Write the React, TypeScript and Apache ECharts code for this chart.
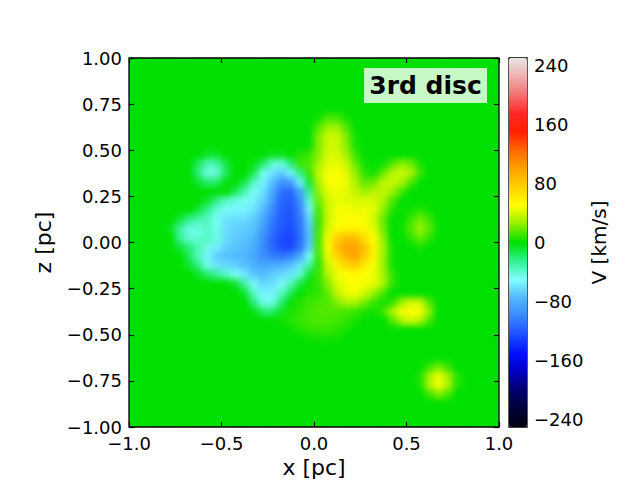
import { useEffect, useRef } from 'react';
import * as echarts from 'echarts';

const FONT = '"DejaVu Sans"';

// cell centres of the map, 0.05 pc steps
const xCenters = ['-0.975','-0.925','-0.875','-0.825','-0.775','-0.725','-0.675','-0.625','-0.575','-0.525','-0.475','-0.425','-0.375','-0.325','-0.275','-0.225','-0.175','-0.125','-0.075','-0.025','0.025','0.075','0.125','0.175','0.225','0.275','0.325','0.375','0.425','0.475','0.525','0.575','0.625','0.675','0.725','0.775','0.825','0.875','0.925','0.975'];
const zCenters = ['0.975','0.925','0.875','0.825','0.775','0.725','0.675','0.625','0.575','0.525','0.475','0.425','0.375','0.325','0.275','0.225','0.175','0.125','0.075','0.025','-0.025','-0.075','-0.125','-0.175','-0.225','-0.275','-0.325','-0.375','-0.425','-0.475','-0.525','-0.575','-0.625','-0.675','-0.725','-0.775','-0.825','-0.875','-0.925','-0.975'];

// V [km/s], top row first
const velocityRows = [
  [0,0,0,0,0,0,0,0,0,0, 0,0,0,0,0,0,0,0,0,0, 0,0,0,0,0,0,0,0,0,0, 0,0,0,0,0,0,0,0,0,0],
  [0,0,0,0,0,0,0,0,0,0, 0,0,0,0,0,0,0,0,0,0, 0,0,0,0,0,0,0,0,0,0, 0,0,0,0,0,0,0,0,0,0],
  [0,0,0,0,0,0,0,0,0,0, 0,0,0,0,0,0,0,0,0,0, 0,0,0,0,0,0,0,0,0,0, 0,0,0,0,0,0,0,0,0,0],
  [0,0,0,0,0,0,0,0,0,0, 0,0,0,0,0,0,0,0,0,0, 0,0,0,0,0,0,0,0,0,0, 0,0,0,0,0,0,0,0,0,0],
  [0,0,0,0,0,0,0,0,0,0, 0,0,0,0,0,0,0,0,0,0, 0,0,0,0,0,0,0,0,0,0, 0,0,0,0,0,0,0,0,0,0],
  [0,0,0,0,0,0,0,0,0,0, 0,0,0,0,0,0,0,0,0,0, 0,0,0,0,0,0,0,0,0,0, 0,0,0,0,0,0,0,0,0,0],
  [0,0,0,0,0,0,0,0,0,0, 0,0,0,0,0,0,0,0,0,0, 3,12,12,3,0,0,0,0,0,0, 0,0,0,0,0,0,0,0,0,0],
  [0,0,0,0,0,0,0,0,0,0, 0,0,0,0,0,0,0,0,0,0, 14,28,28,14,0,0,0,0,0,0, 0,0,0,0,0,0,0,0,0,0],
  [0,0,0,0,0,0,0,0,0,0, 0,0,0,0,0,0,0,0,0,0, 22,38,38,22,3,0,0,0,0,0, 0,0,0,0,0,0,0,0,0,0],
  [0,0,0,0,0,0,0,0,0,0, 0,0,0,0,0,0,0,0,0,0, 22,38,40,24,4,0,0,0,0,0, 0,0,0,0,0,0,0,0,0,0],
  [0,0,0,0,0,0,0,0,-8,-8, 0,0,0,0,0,-5,-5,0,6,10, 24,40,42,30,10,0,0,0,0,0, 0,0,0,0,0,0,0,0,0,0],
  [0,0,0,0,0,0,0,-16,-34,-32, -12,0,0,-4,-18,-42,-45,-22,10,14, 30,44,46,38,18,3,0,3,14,25, 20,4,0,0,0,0,0,0,0,0],
  [0,0,0,0,0,0,0,-22,-44,-42, -16,0,0,-14,-48,-60,-68,-55,-25,10, 36,48,50,44,26,8,3,18,35,38, 32,10,0,0,0,0,0,0,0,0],
  [0,0,0,0,0,0,0,-8,-20,-18, -3,0,-12,-38,-55,-72,-95,-90,-55,-10, 32,48,50,46,32,16,20,34,38,30, 14,0,0,0,0,0,0,0,0,0],
  [0,0,0,0,0,0,0,0,0,0, 0,-14,-32,-48,-60,-82,-110,-114,-85,-25, 24,44,48,44,36,28,34,36,28,12, 0,0,0,0,0,0,0,0,0,0],
  [0,0,0,0,0,0,0,0,-8,-24, -38,-44,-48,-55,-66,-90,-116,-120,-98,-40, 18,40,46,44,42,42,42,32,14,0, 0,0,0,0,0,0,0,0,0,0],
  [0,0,0,0,0,0,0,-10,-26,-42, -52,-54,-54,-60,-74,-98,-118,-122,-104,-55, 12,38,48,48,46,48,44,25,6,0, 3,6,3,0,0,0,0,0,0,0],
  [0,0,0,0,0,-10,-24,-32,-36,-48, -60,-62,-62,-68,-82,-105,-120,-124,-108,-65, 10,38,48,50,50,48,40,18,0,0, 10,20,10,0,0,0,0,0,0,0],
  [0,0,0,0,-5,-28,-42,-44,-38,-46, -62,-66,-68,-72,-88,-110,-122,-126,-110,-70, 10,40,52,56,56,54,44,20,0,3, 14,28,16,0,0,0,0,0,0,0],
  [0,0,0,0,0,-28,-42,-42,-36,-44, -62,-68,-70,-76,-95,-114,-126,-130,-114,-72, 12,48,74,86,84,66,50,26,0,0, 8,18,8,0,0,0,0,0,0,0],
  [0,0,0,0,0,-10,-22,-34,-44,-56, -66,-70,-74,-80,-98,-114,-126,-130,-110,-68, 12,50,84,98,98,82,56,30,3,0, 0,5,0,0,0,0,0,0,0,0],
  [0,0,0,0,0,0,-16,-36,-54,-68, -72,-74,-76,-84,-96,-105,-108,-102,-85,-48, 10,46,72,90,98,78,54,28,3,0, 0,0,0,0,0,0,0,0,0,0],
  [0,0,0,0,0,0,-8,-24,-46,-60, -64,-66,-72,-78,-84,-80,-78,-72,-60,-30, 8,38,56,72,78,60,48,28,4,0, 0,0,0,0,0,0,0,0,0,0],
  [0,0,0,0,0,0,0,-6,-18,-28, -38,-48,-58,-70,-74,-68,-64,-58,-40,-8, 10,32,46,50,52,50,46,30,8,0, 0,0,0,0,0,0,0,0,0,0],
  [0,0,0,0,0,0,0,0,0,0, 0,-8,-30,-52,-64,-62,-52,-36,-12,3, 8,24,42,48,50,48,46,32,8,0, 0,0,0,0,0,0,0,0,0,0],
  [0,0,0,0,0,0,0,0,0,0, 0,0,-8,-38,-54,-54,-38,-16,0,6, 8,16,36,46,48,40,28,12,0,0, 0,0,0,0,0,0,0,0,0,0],
  [0,0,0,0,0,0,0,0,0,0, 0,0,0,-22,-46,-46,-20,0,6,10, 12,14,22,32,32,20,10,3,8,28, 40,38,14,0,0,0,0,0,0,0],
  [0,0,0,0,0,0,0,0,0,0, 0,0,0,-4,-18,-20,-6,4,8,12, 14,14,14,12,10,5,2,10,32,48, 50,48,24,0,0,0,0,0,0,0],
  [0,0,0,0,0,0,0,0,0,0, 0,0,0,0,0,0,3,6,9,12, 13,13,11,8,4,0,0,0,14,32, 40,32,12,0,0,0,0,0,0,0],
  [0,0,0,0,0,0,0,0,0,0, 0,0,0,0,0,0,0,2,5,8, 9,9,7,4,0,0,0,0,0,0, 0,0,0,0,0,0,0,0,0,0],
  [0,0,0,0,0,0,0,0,0,0, 0,0,0,0,0,0,0,0,0,2, 3,3,2,0,0,0,0,0,0,0, 0,0,0,0,0,0,0,0,0,0],
  [0,0,0,0,0,0,0,0,0,0, 0,0,0,0,0,0,0,0,0,0, 0,0,0,0,0,0,0,0,0,0, 0,0,0,0,0,0,0,0,0,0],
  [0,0,0,0,0,0,0,0,0,0, 0,0,0,0,0,0,0,0,0,0, 0,0,0,0,0,0,0,0,0,0, 0,0,0,0,0,0,0,0,0,0],
  [0,0,0,0,0,0,0,0,0,0, 0,0,0,0,0,0,0,0,0,0, 0,0,0,0,0,0,0,0,0,0, 0,0,10,20,10,0,0,0,0,0],
  [0,0,0,0,0,0,0,0,0,0, 0,0,0,0,0,0,0,0,0,0, 0,0,0,0,0,0,0,0,0,0, 0,5,30,46,30,6,0,0,0,0],
  [0,0,0,0,0,0,0,0,0,0, 0,0,0,0,0,0,0,0,0,0, 0,0,0,0,0,0,0,0,0,0, 0,4,32,48,32,6,0,0,0,0],
  [0,0,0,0,0,0,0,0,0,0, 0,0,0,0,0,0,0,0,0,0, 0,0,0,0,0,0,0,0,0,0, 0,0,10,22,12,0,0,0,0,0],
  [0,0,0,0,0,0,0,0,0,0, 0,0,0,0,0,0,0,0,0,0, 0,0,0,0,0,0,0,0,0,0, 0,0,0,0,0,0,0,0,0,0],
  [0,0,0,0,0,0,0,0,0,0, 0,0,0,0,0,0,0,0,0,0, 0,0,0,0,0,0,0,0,0,0, 0,0,0,0,0,0,0,0,0,0],
  [0,0,0,0,0,0,0,0,0,0, 0,0,0,0,0,0,0,0,0,0, 0,0,0,0,0,0,0,0,0,0, 0,0,0,0,0,0,0,0,0,0],
];

const colorbarTicks = [-240, -160, -80, 0, 80, 160, 240];

// one colour every 25 km/s from -250 to 250
const mapColors = [
  '#000010', '#000038', '#000070', '#0000c0', '#0010ff', '#1c50ff', '#3888ff', '#50b8ff', '#80ffff', '#30f090', '#00e000',
  '#90f000', '#ffff00', '#ffd000', '#ffa000', '#ff6800', '#ff2000', '#ff2828', '#f47070', '#eeb0b0', '#e8e4e4',
];

const minus = (s: string) => s.replace('-', '\u2212');

const PLOT = { left: 129, top: 58, width: 370, height: 369 };

export default function App() {
  const heatRef = useRef<HTMLDivElement>(null);
  const frameRef = useRef<HTMLDivElement>(null);

  useEffect(() => {
    if (!heatRef.current || !frameRef.current) return;
    document.body.style.margin = '0';

    const heat = echarts.init(heatRef.current, null, { renderer: 'svg' });
    heat.setOption({
      animation: false,
      grid: { left: 0, right: 0, top: 0, bottom: 0 },
      xAxis: { type: 'category', data: xCenters, show: false },
      yAxis: { type: 'category', data: zCenters, show: false, inverse: true },
      visualMap: { show: false, min: -250, max: 250, dimension: 2, inRange: { color: mapColors } },
      series: [
        {
          type: 'heatmap',
          data: velocityRows.flatMap((row, j) => row.map((v, i) => [i, j, v])),
          progressive: 0,
        },
      ],
    });

    const frame = echarts.init(frameRef.current, null, { renderer: 'svg' });
    const tickLabel = { color: '#000', fontSize: 18, fontFamily: FONT };
    const tickStyle = { show: true, inside: true, length: 5, lineStyle: { color: '#000', width: 1.2 } };
    const noLine = { show: false, onZero: false };
    const nameStyle = { color: '#000', fontSize: 22, fontFamily: FONT };
    frame.setOption({
      animation: false,
      backgroundColor: 'transparent',
      grid: [
        { ...PLOT, outerBoundsMode: 'none', show: true, borderColor: '#000', borderWidth: 1.3, backgroundColor: 'transparent' },
        { left: 509, top: 58, width: 18, height: 369, outerBoundsMode: 'none', show: true, borderColor: '#000', borderWidth: 1.3, backgroundColor: 'transparent' },
      ],
      xAxis: [
        {
          type: 'value', gridIndex: 0, min: -1, max: 1, interval: 0.5,
          name: 'x [pc]', nameLocation: 'middle', nameGap: 29, nameTextStyle: nameStyle,
          axisLine: noLine, axisTick: tickStyle, splitLine: { show: false },
          axisLabel: { ...tickLabel, margin: 7, formatter: (v: number) => minus(v.toFixed(1)) },
        },
        {
          type: 'value', gridIndex: 0, position: 'top', min: -1, max: 1, interval: 0.5,
          axisLine: noLine, axisTick: tickStyle, splitLine: { show: false }, axisLabel: { show: false },
        },
        { type: 'value', gridIndex: 1, min: 0, max: 1, show: false },
      ],
      yAxis: [
        {
          type: 'value', gridIndex: 0, min: -1, max: 1, interval: 0.25,
          name: 'z [pc]', nameLocation: 'middle', nameGap: 75, nameRotate: 90, nameTextStyle: nameStyle,
          axisLine: noLine, axisTick: tickStyle, splitLine: { show: false },
          axisLabel: { ...tickLabel, margin: 7, formatter: (v: number) => minus(v.toFixed(2)) },
        },
        {
          type: 'value', gridIndex: 0, position: 'right', min: -1, max: 1, interval: 0.25,
          axisLine: noLine, axisTick: tickStyle, splitLine: { show: false }, axisLabel: { show: false },
        },
        {
          type: 'value', gridIndex: 1, position: 'right', min: -250, max: 250,
          name: 'V [km/s]', nameLocation: 'middle', nameGap: 62, nameRotate: 90, nameTextStyle: { ...nameStyle, fontSize: 20 },
          axisLine: noLine, splitLine: { show: false },
          axisTick: { ...tickStyle, customValues: colorbarTicks },
          axisLabel: { ...tickLabel, margin: 7, customValues: colorbarTicks, formatter: (v: number) => minus(String(v)) },
        },
      ],
      visualMap: {
        type: 'continuous', show: true, min: -250, max: 250, left: 509, top: 58, padding: 0,
        itemWidth: 18, itemHeight: 369, calculable: false, showLabel: false, text: ['', ''], seriesIndex: [],
        inRange: { color: mapColors },
      },
      graphic: [
        { type: 'rect', shape: { x: 364, y: 68, width: 123, height: 35 }, style: { fill: 'rgba(255,255,255,0.78)' }, z: 10 },
        {
          type: 'text', x: 425.5, y: 85.5, z: 11,
          style: { text: '3rd disc', font: `bold 25px ${FONT}`, fill: '#000', textAlign: 'center', textVerticalAlign: 'middle' },
        },
      ],
    });

    return () => {
      heat.dispose();
      frame.dispose();
    };
  }, []);

  return (
    <div style={{ position: 'relative', width: 640, height: 480, background: '#fff', overflow: 'hidden' }}>
      <div style={{ position: 'absolute', ...PLOT, overflow: 'hidden', background: '#00e000' }}>
        <div ref={heatRef} style={{ width: PLOT.width, height: PLOT.height, filter: 'blur(3px)' }} />
      </div>
      <div ref={frameRef} style={{ position: 'absolute', left: 0, top: 0, width: 640, height: 480 }} />
    </div>
  );
}
